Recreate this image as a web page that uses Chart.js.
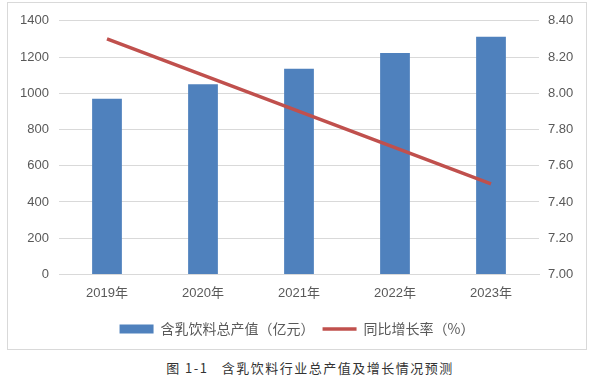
<!DOCTYPE html>
<html>
<head>
<meta charset="utf-8">
<script src="https://cdn.jsdelivr.net/npm/chart.js@4/dist/chart.umd.min.js"></script>
<style>
    html, body { margin: 0; padding: 0; background: #fff; }
    body { width: 596px; height: 382px; position: relative; overflow: hidden; }
    .box {
        position: absolute; left: 7px; top: 2px;
        width: 578px; height: 346px;
        border: 1px solid #d9d9d9;
    }
    .caption {
        position: absolute; left: 0; width: 620px; top: 358px;
        text-align: center;
        font: 400 13px "Noto Sans CJK SC", sans-serif;
        letter-spacing: 1.5px; color: #333;
    }
</style>
</head>
<body>
<div class="box"><canvas id="chart" width="578" height="346"></canvas></div>
<div class="caption">图 1-1&nbsp;&nbsp;&nbsp;含乳饮料行业总产值及增长情况预测</div>
<script>
// ==============================
// data
// ==============================
const years = ["2019年", "2020年", "2021年", "2022年", "2023年"];
const outputValue = [970, 1050, 1135, 1222, 1312];
const growthRate = [8.3, 8.1, 7.9, 7.7, 7.5];
const seriesNames = ["含乳饮料总产值（亿元）", "同比增长率（%）"];

const textColor = "#595959";
const gridColor = "#d9d9d9";
const tickFont = { family: "'Liberation Sans', 'Noto Sans CJK SC', sans-serif", size: 13 };

new Chart(document.getElementById("chart"), {
    type: "bar",
    data: {
        labels: years,
        datasets: [
            {
                type: "bar",
                label: seriesNames[0],
                data: outputValue,
                backgroundColor: "#4f81bd",
                borderWidth: 0,
                yAxisID: "y",
                categoryPercentage: 1,
                barPercentage: 0.31,
                pointStyle: "rect",
                order: 2,
            },
            {
                type: "line",
                label: seriesNames[1],
                data: growthRate,
                borderColor: "#c0504d",
                backgroundColor: "#c0504d",
                borderWidth: 3.5,
                pointRadius: 0,
                pointStyle: "line",
                yAxisID: "y1",
                order: 1,
            },
        ],
    },
    options: {
        responsive: false,
        animation: false,
        layout: { padding: { top: 13, bottom: 3, left: 0, right: 0 } },
        plugins: {
            tooltip: { enabled: false },
            legend: {
                position: "bottom",
                labels: {
                    usePointStyle: true,
                    pointStyleWidth: 34,
                    boxHeight: 9,
                    padding: 8,
                    color: textColor,
                    font: { family: "'Noto Sans CJK SC', sans-serif", size: 14 },
                    // keep bar series first like the original
                    sort: (a, b) => a.datasetIndex - b.datasetIndex,
                },
            },
        },
        scales: {
            x: {
                grid: { display: false },
                border: { display: true, color: gridColor, width: 1 },
                ticks: { color: textColor, font: tickFont, padding: 3 },
                afterFit: (scale) => { scale.height += 10; },
            },
            y: {
                position: "left",
                min: 0,
                max: 1400,
                ticks: {
                    stepSize: 200,
                    color: textColor,
                    font: tickFont,
                    padding: 10,
                    callback: (v) => String(v),
                },
                grid: { color: gridColor, drawTicks: false },
                border: { display: false },
                afterFit: (scale) => { scale.width = 51; },
            },
            y1: {
                position: "right",
                min: 7,
                max: 8.4,
                ticks: {
                    stepSize: 0.2,
                    color: textColor,
                    font: tickFont,
                    padding: 9,
                    callback: (v) => Number(v).toFixed(2),
                },
                grid: { display: false, drawTicks: false },
                border: { display: false },
                afterFit: (scale) => { scale.width = 47; },
            },
        },
    },
});
</script>
</body>
</html>
